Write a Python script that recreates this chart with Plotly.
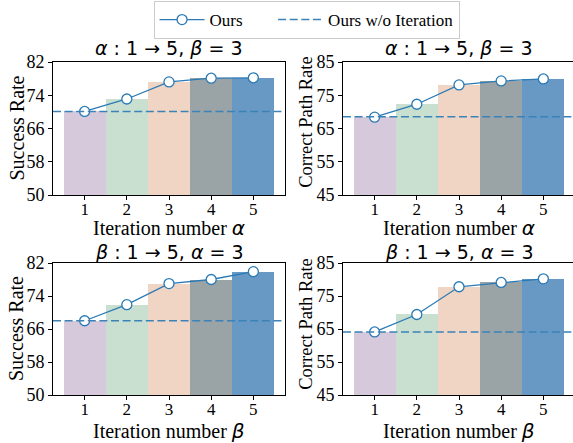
import plotly.graph_objects as go

iterations = [1, 2, 3, 4, 5]
tick_labels = ["1", "2", "3", "4", "5"]

sr_alpha = [70.1, 73.1, 77.2, 78.1, 78.2]
cpr_alpha = [68.4, 72.3, 78.1, 79.3, 79.9]
sr_beta = [68.0, 71.9, 77.0, 78.0, 79.9]
cpr_beta = [64.1, 69.4, 77.8, 79.1, 80.2]

baseline_sr_alpha = 70.1
baseline_cpr_alpha = 68.5
baseline_sr_beta = 68.0
baseline_cpr_beta = 64.1

sr_ticks = [50, 58, 66, 74, 82]
cpr_ticks = [45, 55, 65, 75, 85]

titles = ["<i>α</i> : 1 → 5, <i>β</i> = 3", "<i>α</i> : 1 → 5, <i>β</i> = 3",
          "<i>β</i> : 1 → 5, <i>α</i> = 3", "<i>β</i> : 1 → 5, <i>α</i> = 3"]
ylabels = ["Success Rate", "Correct Path Rate", "Success Rate", "Correct Path Rate"]
xlabels = ["Iteration number <span style='font-family:DejaVu Sans'><i>α</i></span>"] * 2 + \
          ["Iteration number <span style='font-family:DejaVu Sans'><i>β</i></span>"] * 2
legend_names = ["Ours", "Ours w/o Iteration"]

bar_colors = ["#d7c9dc", "#c9e0d0", "#f0d5c5", "#9aa3a6", "#6898c4"]
line_color = "#2a7ab5"
dash_color = "#3a82b8"

W, H = 573, 443
serif = "Liberation Serif"
sans = "DejaVu Sans"

panels = [
    (sr_alpha, baseline_sr_alpha, sr_ticks),
    (cpr_alpha, baseline_cpr_alpha, cpr_ticks),
    (sr_beta, baseline_sr_beta, sr_ticks),
    (cpr_beta, baseline_cpr_beta, cpr_ticks),
]

# pixel boxes (left, right, top, bottom)
boxes = [(53, 285, 62, 195), (343, 573, 62, 195), (53, 285, 263, 395), (343, 573, 263, 395)]
title_baselines = [57, 57, 261, 261]
xlabel_centers = [228, 228, 431, 431]
ylabel_x = [16, 306, 16, 306]
ylabel_size = [20, 18.5, 20, 18.5]
ylabel_frac = [0.5, 0.45, 0.5, 0.46]

fig = go.Figure()
layout = {}
shapes = []
annotations = []
px_per = (285 - 53) / 5.5
pad = "\u00a0" * 6
for i, ((vals, base, ticks), (l, r, t, b)) in enumerate(zip(panels, boxes)):
    n = "" if i == 0 else str(i + 1)
    xa, ya = "x" + n, "y" + n
    fig.add_trace(go.Bar(x=iterations, y=vals, width=1.0, marker=dict(color=bar_colors, line=dict(width=0)),
                         showlegend=False, xaxis=xa, yaxis=ya))
    fig.add_trace(go.Scatter(x=iterations, y=vals, mode="lines+markers", name=legend_names[0] + pad,
                             line=dict(color=line_color, width=1.3),
                             marker=dict(size=10, color="white", line=dict(color=line_color, width=1.3)),
                             showlegend=(i == 0), xaxis=xa, yaxis=ya))
    shapes.append(dict(type="line", xref=xa + " domain", yref=ya, x0=0, x1=1, y0=base, y1=base,
                       line=dict(color=dash_color, width=1.5, dash="8px,3.6px"), layer="above",
                       name=legend_names[1], showlegend=(i == 0)))
    right_clip = (r >= W)
    xmax = 0.25 + (r - l) / px_per
    layout["xaxis" + n] = dict(domain=[l / W, r / W], range=[0.25, xmax], anchor=ya,
                               tickvals=iterations, ticktext=tick_labels,
                               showline=True, linecolor="black", linewidth=1, mirror=True,
                               ticks="outside", ticklen=4, tickwidth=1, tickcolor="black",
                               showgrid=False, zeroline=False, automargin=False,
                               ticklabelstandoff=-5,
                               tickfont=dict(family=serif, size=17, color="black"))
    layout["yaxis" + n] = dict(domain=[1 - b / H, 1 - t / H], range=[ticks[0], ticks[-1]], anchor=xa,
                               tickvals=ticks, showline=True, linecolor="black", linewidth=1,
                               mirror=(not right_clip), ticks="outside", ticklen=4, tickwidth=1,
                               tickcolor="black", showgrid=False, zeroline=False, automargin=False,
                               tickfont=dict(family=serif, size=18, color="black"))
    cx = (l + l + 232) / 2
    annotations.append(dict(text=titles[i], xref="paper", x=cx / W, yref="paper",
                            y=1 - (title_baselines[i] + 4) / H, yanchor="bottom", xanchor="center",
                            showarrow=False, font=dict(family=sans, size=19, color="black")))
    annotations.append(dict(text=xlabels[i], xref="paper", x=cx / W, yref="paper",
                            y=1 - xlabel_centers[i] / H, yanchor="middle", xanchor="center",
                            showarrow=False, font=dict(family=serif, size=20, color="black")))
    annotations.append(dict(text=ylabels[i], xref="paper", x=ylabel_x[i] / W, yref="paper",
                            y=1 - (t + ylabel_frac[i] * (b - t)) / H, yanchor="middle", xanchor="center",
                            textangle=-90, showarrow=False,
                            font=dict(family=serif, size=ylabel_size[i], color="black")))

fig.update_layout(**layout)
fig.update_layout(
    width=W, height=H, margin=dict(l=0, r=0, t=0, b=0, autoexpand=False),
    paper_bgcolor="white", plot_bgcolor="white",
    shapes=shapes, annotations=annotations, bargap=0,
    legend=dict(orientation="h", x=0.535, xanchor="center", y=1 - 1 / H, yanchor="top",
                bordercolor="#cccccc", borderwidth=1, bgcolor="white",
                font=dict(family=serif, size=17, color="black"), itemwidth=45),
)
fig.write_html("out.html", config={"displayModeBar": False},
               post_script="document.body.style.margin='0px';")
